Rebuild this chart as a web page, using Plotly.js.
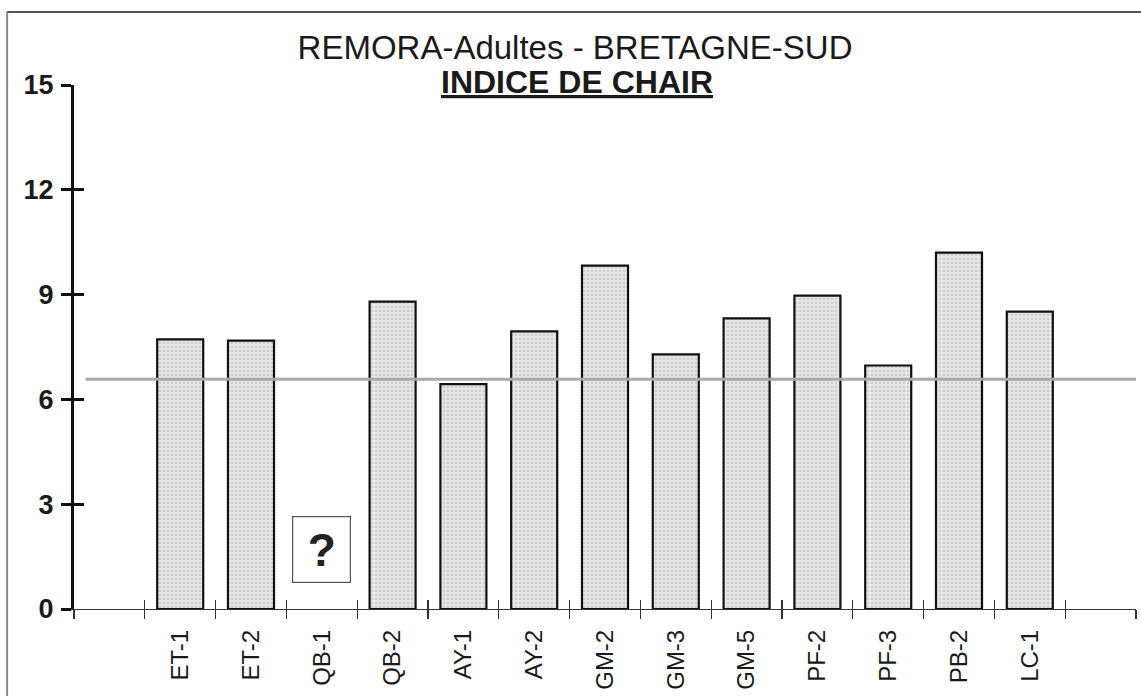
<!DOCTYPE html>
<html>
<head>
<meta charset="utf-8">
<script src="https://cdn.plot.ly/plotly-3.0.1.min.js"></script>
<style>html,body{margin:0;padding:0;background:#fff;}#chart{width:1141px;height:696px;}</style>
</head>
<body>
<div id="chart"></div>
<script>
// ---- data ----
const titleLine1 = 'REMORA-Adultes - BRETAGNE-SUD';
const titleLine2 = 'INDICE DE CHAIR';
const categories = ['ET-1','ET-2','QB-1','QB-2','AY-1','AY-2','GM-2','GM-3','GM-5','PF-2','PF-3','PB-2','LC-1'];
const values     = [7.72, 7.68, null, 8.80, 6.44, 7.95, 9.83, 7.29, 8.32, 8.97, 6.97, 10.20, 8.51];
const missingLabel = '?';
const missingCategory = 'QB-1';
const referenceValue = 6.58;
const yTickValues = [0, 3, 6, 9, 12, 15];

// category slots: one empty slot before and after the stations
const slotCount = categories.length + 2;
const xPos = categories.map((c, i) => i + 1);
const boundaries = Array.from({length: slotCount + 1}, (_, i) => i - 0.5);
const xRange = [-0.5, slotCount - 0.5];
const yRange = [0, 15];
const FONT = 'Liberation Sans, Arial, sans-serif';

const bars = {
  type: 'bar',
  x: xPos,
  y: values,
  width: 0.65,
  marker: {
    color: '#e4e4e4',
    line: {color: '#111', width: 2.2},
    pattern: {shape: '.', fgcolor: '#cbcbcb', bgcolor: '#e6e6e6', size: 4, solidity: 0.25}
  },
  hoverinfo: 'x+y',
  showlegend: false
};

const layout = {
  width: 1141, height: 696,
  margin: {l: 74, r: 5, t: 85, b: 87},
  paper_bgcolor: '#fff', plot_bgcolor: 'rgba(0,0,0,0)',
  font: {family: FONT, color: '#111'},
  showlegend: false,
  title: {
    text: titleLine1,
    font: {family: FONT, size: 33, color: '#1a1a1a'},
    xref: 'container', x: 0.504, xanchor: 'center',
    yref: 'container', y: 0.932, yanchor: 'middle'
  },
  xaxis: {
    range: xRange, fixedrange: true,
    tickmode: 'array', tickvals: xPos, ticktext: categories,
    tickangle: -90, ticks: '', ticklabelstandoff: 10,
    tickfont: {family: FONT, size: 24, color: '#1a1a1a'},
    showline: true, linecolor: '#333', linewidth: 1.2,
    showgrid: false, zeroline: false
  },
  xaxis2: {
    overlaying: 'x', anchor: 'y', side: 'bottom', matches: 'x',
    range: xRange, tickmode: 'array', tickvals: boundaries,
    ticks: 'outside', ticklen: 9, tickwidth: 1.2, tickcolor: '#333',
    showticklabels: false, showline: false, showgrid: false, zeroline: false
  },
  xaxis3: {
    overlaying: 'x', anchor: 'y', side: 'bottom', matches: 'x',
    range: xRange, tickmode: 'array', tickvals: boundaries,
    ticks: 'inside', ticklen: 9, tickwidth: 1.2, tickcolor: '#333',
    showticklabels: false, showline: false, showgrid: false, zeroline: false
  },
  yaxis: {
    range: yRange, fixedrange: true,
    tickmode: 'array', tickvals: yTickValues,
    ticks: 'outside', ticklen: 10, tickwidth: 3, tickcolor: '#111',
    ticklabelstandoff: 2,
    tickfont: {family: FONT, size: 27, color: '#1a1a1a', weight: 'bold'},
    showline: true, linecolor: '#111', linewidth: 3,
    showgrid: false, zeroline: false
  },
  yaxis2: {
    overlaying: 'y', anchor: 'x', side: 'left', matches: 'y',
    range: yRange, tickmode: 'array', tickvals: yTickValues,
    ticks: 'inside', ticklen: 10, tickwidth: 3, tickcolor: '#111',
    showticklabels: false, showline: false, showgrid: false, zeroline: false
  },
  shapes: [
    // reference (mean) line
    {type: 'line', xref: 'paper', x0: 0.011, x1: 1.0, yref: 'y', y0: referenceValue, y1: referenceValue,
     line: {color: '#a9a9a9', width: 3}, layer: 'above'},
    // outer frame
    {type: 'line', xref: 'paper', x0: -0.063, x1: 1.01, yref: 'paper', y0: 1.1395, y1: 1.1395,
     line: {color: '#555', width: 2}},
    {type: 'line', xref: 'paper', x0: -0.063, x1: -0.063, yref: 'paper', y0: 1.1395, y1: -0.2,
     line: {color: '#8a8a8a', width: 2}}
  ],
  annotations: [
    {text: '<b><u>' + titleLine2 + '</u></b>', xref: 'paper', x: 0.4736, xanchor: 'center',
     yref: 'paper', y: 1.006, yanchor: 'middle', showarrow: false,
     font: {family: FONT, size: 32, color: '#1a1a1a'}},
    {text: '<b>' + missingLabel + '</b>', xref: 'x', x: xPos[categories.indexOf(missingCategory)],
     yref: 'y', y: 1.7, showarrow: false, width: 55, height: 63,
     bordercolor: '#555', borderwidth: 1.2, bgcolor: '#fff',
     font: {family: FONT, size: 46, color: '#222'}}
  ]
};

// attach empty traces so overlay axes render
const ghost = (xa, ya) => ({type: 'scatter', x: [], y: [], xaxis: xa, yaxis: ya, hoverinfo: 'skip', showlegend: false});

Plotly.newPlot('chart', [bars, ghost('x2','y'), ghost('x3','y'), ghost('x','y2')], layout, {displayModeBar: false, staticPlot: true});
</script>
</body>
</html>
